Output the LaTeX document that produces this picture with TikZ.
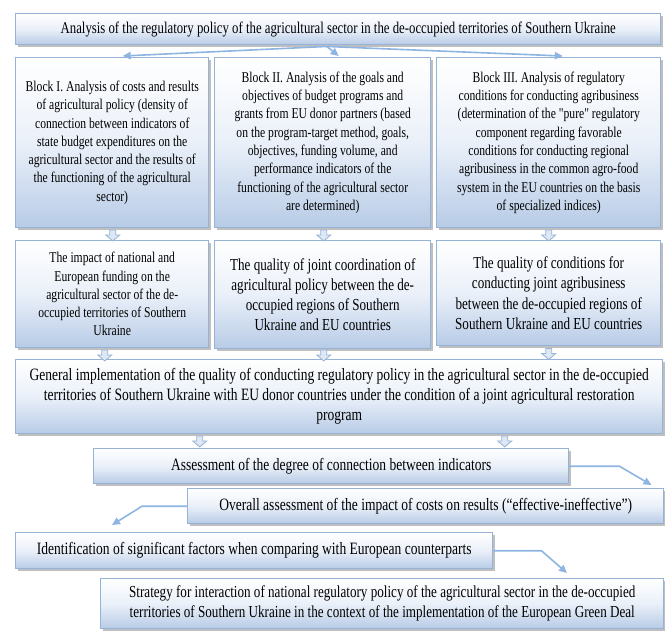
\documentclass[tikz,border=0pt]{standalone}
\usepackage{fontspec}
\setmainfont{Liberation Serif}[FakeStretch=0.78, Ligatures=TeXOff]
\usetikzlibrary{arrows.meta,shadows,calc}
\definecolor{bbord}{RGB}{149,179,215}
\definecolor{bbot}{RGB}{183,203,230}
\definecolor{bmid}{RGB}{234,240,249}
\definecolor{connc}{RGB}{141,180,226}
\definecolor{afill}{RGB}{222,232,244}
\tikzset{
  pbox/.style={draw=bbord, line width=1.1pt, top color=white, bottom color=bbot, middle color=bmid,
    inner sep=0pt, align=center, anchor=north west,
    drop shadow={shadow xshift=1.6pt, shadow yshift=-2pt, fill=black!50, opacity=0.5}},
  cline/.style={draw=connc, line width=1.2pt, -{Triangle[length=6pt,width=5.5pt]}},
  downarr/.pic={\filldraw[draw=bbord, fill=afill, line width=0.6pt]
    (-3,0) -- (3,0) -- (3,5) -- (7,5) -- (0,11) -- (-7,5) -- (-3,5) -- cycle;},
  fblock/.style={font=\fontsize{11.2}{13.7}\selectfont},
  fmid/.style={font=\fontsize{12.6}{15.2}\selectfont},
  ftitle/.style={font=\fontsize{12.3}{15}\selectfont},
  fbig/.style={font=\fontsize{13}{15}\selectfont}
}
\begin{document}
\begin{tikzpicture}[x=0.75pt, y=-0.75pt]
\useasboundingbox (0,0) rectangle (665,631);

\node[pbox, ftitle, minimum width=645*0.75pt, minimum height=31*0.75pt] (title) at (15,13)
  {Analysis of the regulatory policy of the agricultural sector in the de-occupied territories of Southern Ukraine};

\node[pbox, fblock, minimum width=193*0.75pt, minimum height=170*0.75pt] (b1) at (15,57)
  {Block I. Analysis of costs and results\\ of agricultural policy (density of\\ connection between indicators of\\ state budget expenditures on the\\ agricultural sector and the results of\\ the functioning of the agricultural\\ sector)};
\node[pbox, fblock, minimum width=216*0.75pt, minimum height=170*0.75pt] (b2) at (214,57)
  {Block II. Analysis of the goals and\\ objectives of budget programs and\\ grants from EU donor partners (based\\ on the program-target method, goals,\\ objectives, funding volume, and\\ performance indicators of the\\ functioning of the agricultural sector\\ are determined)};
\node[pbox, fblock, minimum width=224*0.75pt, minimum height=170*0.75pt] (b3) at (436,57)
  {Block III. Analysis of regulatory\\ conditions for conducting agribusiness\\ (determination of the "pure" regulatory\\ component regarding favorable\\ conditions for conducting regional\\ agribusiness in the common agro-food\\ system in the EU countries on the basis\\ of specialized indices)};

\node[pbox, fblock, minimum width=193*0.75pt, minimum height=107*0.75pt] (r1) at (15,240)
  {The impact of national and\\ European funding on the\\ agricultural sector of the de-\\ occupied territories of Southern\\ Ukraine};
\node[pbox, fmid, minimum width=216*0.75pt, minimum height=108*0.75pt] (r2) at (214,240)
  {The quality of joint coordination of\\ agricultural policy between the de-\\ occupied regions of Southern\\ Ukraine and EU countries};
\node[pbox, fmid, minimum width=224*0.75pt, minimum height=105*0.75pt] (r3) at (436,240)
  {The quality of conditions for\\ conducting joint agribusiness\\ between the de-occupied regions of\\ Southern Ukraine and EU countries};

\node[pbox, fbig, minimum width=647*0.75pt, minimum height=74*0.75pt] (gen) at (15,359)
  {General implementation of the quality of conducting regulatory policy in the agricultural sector in the de-occupied\\ territories of Southern Ukraine with EU donor countries under the condition of a joint agricultural restoration\\ program};

\node[pbox, fbig, minimum width=475*0.75pt, minimum height=35*0.75pt] (ass) at (93,448)
  {Assessment of the degree of connection between indicators};
\node[pbox, fbig, minimum width=476*0.75pt, minimum height=35*0.75pt] (ovr) at (187,488)
  {Overall assessment of the impact of costs on results (“effective-ineffective”)};
\node[pbox, fbig, minimum width=477*0.75pt, minimum height=36*0.75pt] (idf) at (15,532)
  {Identification of significant factors when comparing with European counterparts};
\node[pbox, fmid, minimum width=563*0.75pt, minimum height=50*0.75pt] (str) at (100,578)
  {Strategy for interaction of national regulatory policy of the agricultural sector in the de-occupied\\ territories of Southern Ukraine in the context of the implementation of the European Green Deal};

% connectors from title
\draw[cline] ($(title.south)+(-11.5,1)$) -- ($(b1.north)+(10.5,-1)$);
\draw[cline] ($(title.south)+(-11.5,1)$) -- ($(b2.north)+(16,-1)$);
\draw[cline] ($(title.south)+(-11.5,1)$) -- ($(b3.north)+(14,-1)$);

% block arrows
\pic at ($(b1.south)+(0.5,1.5)$) {downarr};
\pic at ($(b2.south)+(1,1.5)$) {downarr};
\pic at ($(b3.south)+(0,1.5)$) {downarr};
\pic at ($(r1.south)+(-7.5,1.5)$) {downarr};
\pic at ($(r2.south)+(1,0.5)$) {downarr};
\pic at ($(r3.south)+(0,2)$) {downarr};
\pic at ($(gen.south)+(-139.5,1.5)$) {downarr};
\pic at ($(gen.south)+(165.5,1.5)$) {downarr};

% bent connectors
\draw[cline] (ass.east) -- ++(50,0) -- ($(ovr.north east)+(-13,-3)$);
\draw[cline] (ovr.west) -- ++(-45,0) -- ($(idf.north west)+(97,-7)$);
\draw[cline] (idf.east) -- ++(48,0) -- ($(str.north west)+(467,-5)$);
\end{tikzpicture}
\end{document}
